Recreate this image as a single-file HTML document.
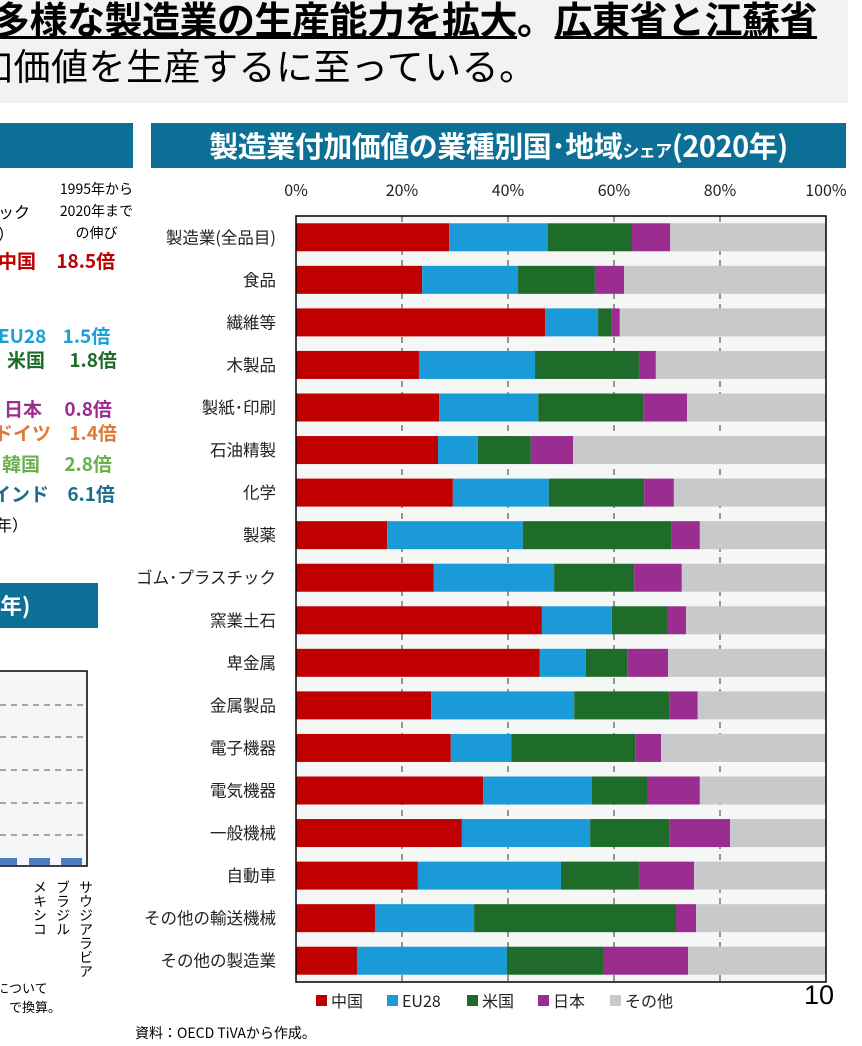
<!DOCTYPE html>
<html><head><meta charset="utf-8">
<style>
body{margin:0;width:862px;height:1046px;overflow:hidden;background:#fff;font-family:"Liberation Sans","Noto Sans CJK JP",sans-serif;position:relative}
.abs{position:absolute;white-space:nowrap}
.hdr{position:absolute;background:#0b6f96;color:#fff;font-weight:bold;font-family:"Noto Sans CJK JP",sans-serif}
.lt{position:absolute;white-space:nowrap;font-size:19px;font-weight:bold;font-family:"Noto Sans CJK JP",sans-serif}
.vt{position:absolute;writing-mode:vertical-rl;font-size:14px;font-family:"Noto Sans CJK JP",sans-serif;line-height:16px}
</style></head><body>
<div class="abs" style="left:0;top:0;width:848px;height:103px;background:#f1f2f2"></div>
<div class="abs" style="left:-8px;top:-5px;font-size:38px;font-weight:bold;font-family:'Noto Sans CJK JP',sans-serif;line-height:46px;letter-spacing:-0.5px"><u>多様な製造業の生産能力を拡大</u>。<u>広東省と江蘇省</u></div>
<div class="abs" style="left:-24px;top:41px;font-size:37px;font-family:'Noto Sans CJK JP',sans-serif;line-height:46px;letter-spacing:0.5px">加価値を生産するに至っている。</div>

<div class="hdr" style="left:0;top:123px;width:133px;height:45px"></div>
<div class="hdr" style="left:151px;top:123px;width:695px;height:45px;font-size:29px;line-height:45px;text-align:center;letter-spacing:-0.5px">製造業付加価値の業種別国･地域<span style="font-size:17px">シェア</span>(2020年)</div>

<div class="abs" style="right:729px;top:178px;font-size:14px;line-height:22px;text-align:center;font-family:'Noto Sans CJK JP',sans-serif">1995年から<br>2020年まで<br>の伸び</div>
<div class="abs" style="left:-2px;top:200px;font-size:16px;line-height:22px;font-family:'Noto Sans CJK JP',sans-serif">ック<br>）</div>
<div class="lt" style="left:-2px;top:247px;color:#c00000">中国 <span style="margin-left:16px">18.5倍</span></div>
<div class="lt" style="left:-2px;top:322px;color:#1aa0d8">EU28 <span style="margin-left:12px">1.5倍</span></div>
<div class="lt" style="left:7px;top:346px;color:#1e6b2a">米国 <span style="margin-left:20px">1.8倍</span></div>
<div class="lt" style="left:4px;top:395px;color:#9b2d91">日本 <span style="margin-left:18px">0.8倍</span></div>
<div class="lt" style="left:-6px;top:419px;color:#e07a3a">ドイツ <span style="margin-left:14px">1.4倍</span></div>
<div class="lt" style="left:2px;top:450px;color:#6ab04c">韓国 <span style="margin-left:20px">2.8倍</span></div>
<div class="lt" style="left:-8px;top:480px;color:#1b6e8c">インド <span style="margin-left:14px">6.1倍</span></div>
<div class="abs" style="left:-4px;top:512px;font-size:16px">年）</div>

<div class="hdr" style="left:0;top:583px;width:98px;height:45px;font-size:22px;line-height:45px">年)</div>
<svg class="abs" style="left:0;top:660px" width="140" height="220">
<rect x="-2" y="11" width="89" height="195" fill="#f5f6f6" stroke="#000" stroke-width="1.5"/>
<g stroke="#777" stroke-dasharray="6,5" stroke-width="1.3">
<line x1="0" x2="86" y1="45" y2="45"/><line x1="0" x2="86" y1="77" y2="77"/><line x1="0" x2="86" y1="110" y2="110"/><line x1="0" x2="86" y1="143" y2="143"/><line x1="0" x2="86" y1="175" y2="175"/></g>
<rect x="0" y="198" width="17" height="7" fill="#4a7cc4"/><rect x="29" y="198" width="21" height="7" fill="#4a7cc4"/><rect x="61" y="198" width="21" height="7" fill="#4a7cc4"/>
</svg>
<div class="vt" style="left:32px;top:880px">メキシコ</div>
<div class="vt" style="left:55px;top:880px">ブラジル</div>
<div class="vt" style="left:78px;top:880px">サウジアラビア</div>
<div class="abs" style="left:-4px;top:978px;font-size:13px;line-height:19px;font-family:'Noto Sans CJK JP',sans-serif">について<br>）で換算。</div>

<svg id="chart" class="abs" style="left:0;top:0" width="862" height="1046"></svg>
<div class="abs" style="left:804px;top:980px;font-size:27px">10</div>
<div class="abs" style="left:135px;top:1023px;font-size:14px;font-family:'Noto Sans CJK JP',sans-serif">資料：OECD TiVAから作成。</div>

<script>
const categories=["製造業(全品目)","食品","繊維等","木製品","製紙･印刷","石油精製","化学","製薬","ゴム･プラスチック","窯業土石","卑金属","金属製品","電子機器","電気機器","一般機械","自動車","その他の輸送機械","その他の製造業"];
const seriesNames=["中国","EU28","米国","日本","その他"];
const china=[28.9,23.8,47,23.2,27,26.8,29.6,17.2,26,46.4,46,25.5,29.2,35.3,31.3,23,14.9,11.5];
const eu28=[18.6,18.1,10,21.9,18.7,7.5,18.1,25.6,22.7,13.2,8.7,27,11.4,20.5,24.2,27,18.7,28.3];
const us=[15.9,14.5,2.6,19.6,19.8,10,18,28.1,15.1,10.4,7.8,17.9,23.4,10.6,14.9,14.7,38.1,18.3];
const japan=[7.2,5.5,1.5,3.2,8.3,8,5.6,5.3,9,3.6,7.7,5.4,4.9,9.8,11.5,10.4,3.8,15.9];
const tickLabels=["0%","20%","40%","60%","80%","100%"];
const tickValues=[0,20,40,60,80,100];
const colors=["#c00000","#1a9ad6","#1e6b2a","#9b2d91","#c8c9ca"];
const svg=document.getElementById('chart');const NS="http://www.w3.org/2000/svg";
const L=296,R=826,T=216,B=982;
const xs=v=>L+(R-L)*v/100;
const pitch=(B-T)/categories.length;
const yc=i=>T+pitch*(i+0.5);
function mk(t,a,p){const e=document.createElementNS(NS,t);for(const k in a)e.setAttribute(k,a[k]);(p||svg).appendChild(e);return e;}
const bg=mk('rect',{x:L,y:T,width:R-L,height:B-T,fill:'#f5f6f6'});


tickValues.forEach((v,i)=>{
 if(v>0&&v<100){const g=mk('line',{x1:xs(v),x2:xs(v),y1:T,y2:B,stroke:'#555','stroke-dasharray':'6,5','stroke-width':1.2});
 
 }
 const t=mk('text',{x:xs(v),y:196,'text-anchor':'middle','font-size':16,fill:'#222','font-family':'Noto Sans CJK JP'});t.textContent=tickLabels[i];
 
 
});
const series=[china,eu28,us,japan];
categories.forEach((c,i)=>{
 let acc=0;const h=28;
 const vals=series.map(s=>s[i]);vals.push(100-vals.reduce((a,b)=>a+b,0));
 vals.forEach((v,j)=>{const r=mk('rect',{x:xs(acc),y:yc(i)-h/2,width:xs(acc+v)-xs(acc),height:h,fill:colors[j]});
  
  
  acc+=v;});
 const t=mk('text',{x:276,y:yc(i)+6,'text-anchor':'end','font-size':16.5,fill:'#222','font-family':'Noto Sans CJK JP'});t.textContent=c;
 
 
});
const fr=mk('rect',{x:L,y:T,width:R-L,height:B-T,fill:'none',stroke:'#000','stroke-width':1.5});


const lx=[316,387,467,538,610];
seriesNames.forEach((n,j)=>{
 const r=mk('rect',{x:lx[j],y:995,width:11,height:11,fill:colors[j]});
 
 
 const t=mk('text',{x:lx[j]+15,y:1007,'font-size':16,fill:'#222','font-family':'Noto Sans CJK JP'});t.textContent=n;
 
 
});
</script>
</body></html>
